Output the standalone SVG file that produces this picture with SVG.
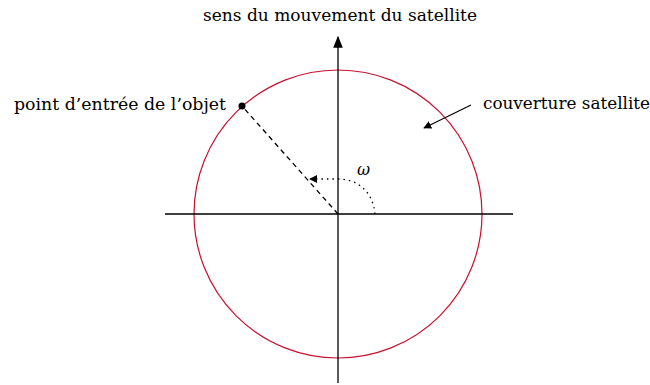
<svg xmlns="http://www.w3.org/2000/svg" width="650" height="385" viewBox="0 0 650 385">
<style>
.ax{stroke:#000;stroke-width:1.3;fill:none}
.lb{font-family:'DejaVu Serif','Liberation Serif',serif;font-size:16px;fill:#000}
</style>
<defs>
<marker id="ah" viewBox="0 0 10 10" refX="9" refY="5" markerWidth="8" markerHeight="8" markerUnits="userSpaceOnUse" orient="auto">
<path d="M0,0 L10,5 L0,10 Z" fill="#000"/>
</marker>
<marker id="ahb" viewBox="0 0 10 10" refX="9" refY="5" markerWidth="12" markerHeight="12" markerUnits="userSpaceOnUse" orient="auto">
<path d="M0,1 L10,5 L0,9 Z" fill="#000"/>
</marker>
</defs>
<rect width="650" height="385" fill="#fff"/>
<g id="coverage">
<circle cx="338" cy="214" r="144" fill="none" stroke="#c8102e" stroke-width="1.2"/>
</g>
<g id="connectors">
<line class="ax" x1="165" y1="214" x2="513" y2="214"/>
<line class="ax" x1="338" y1="383" x2="338" y2="37" marker-end="url(#ahb)"/>
<line x1="338" y1="214" x2="242" y2="106" stroke="#000" stroke-width="1.3" stroke-dasharray="5,4"/>
<path d="M375,214 C373,192 358,179 338,179 L310,179" fill="none" stroke="#000" stroke-width="1.3" stroke-dasharray="1.5,4" marker-end="url(#ah)"/>
<line x1="471" y1="105" x2="424" y2="128" stroke="#000" stroke-width="1.2" marker-end="url(#ah)"/>
</g>
<g id="entry-point">
<circle cx="242" cy="106" r="3.5" fill="#000"/>
<text class="lb" x="14" y="110" textLength="212" lengthAdjust="spacingAndGlyphs">point d’entrée de l’objet</text>
</g>
<g id="direction-label">
<text class="lb" x="203" y="21" textLength="274" lengthAdjust="spacingAndGlyphs">sens du mouvement du satellite</text>
</g>
<g id="coverage-label">
<text class="lb" x="483" y="109" textLength="167" lengthAdjust="spacingAndGlyphs">couverture satellite</text>
</g>
<g id="omega">
<text class="lb" x="357" y="175" font-size="17" font-style="italic">ω</text>
</g>
</svg>
